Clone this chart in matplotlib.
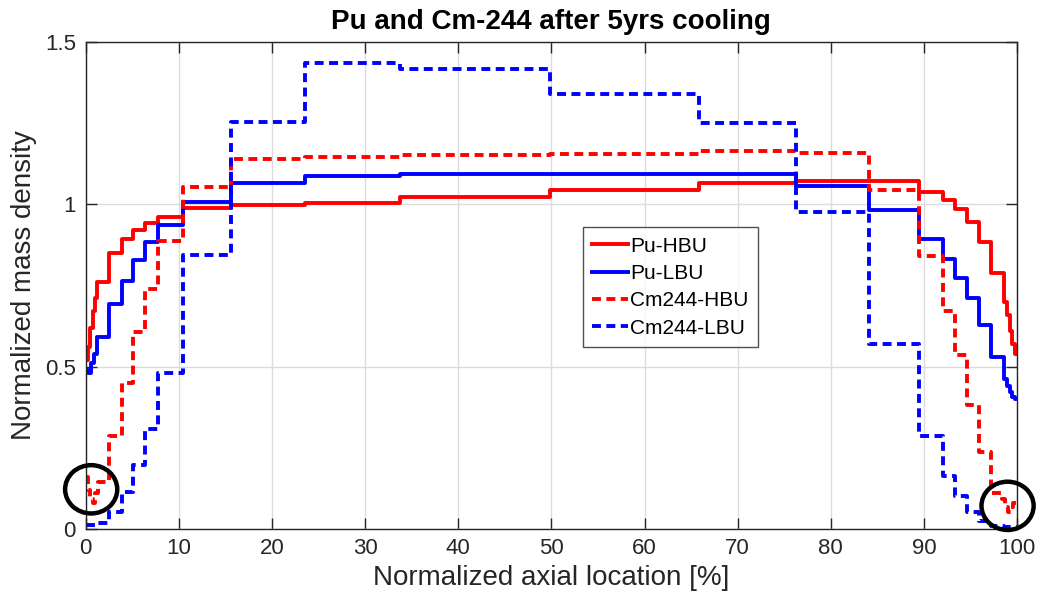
import numpy as np
import matplotlib.pyplot as plt
from matplotlib.patches import Ellipse

plt.rcParams['font.family'] = ['Liberation Sans', 'DejaVu Sans']

# axial zone boundaries [%] and normalized mass density in each zone
pu_hbu_x = [0, 0.25, 0.5, 0.75, 1.0, 1.25, 2.5, 3.85, 5.1, 6.4, 7.8, 10.4, 15.6, 23.6, 33.8,
            49.9, 65.8, 76.3, 89.5, 92.0, 93.3, 94.6, 95.9, 97.2, 98.6, 98.9, 99.2, 99.5, 99.75, 100]
pu_hbu_y = [0.52, 0.56, 0.62, 0.67, 0.71, 0.762, 0.849, 0.893, 0.921, 0.944, 0.962, 0.988, 0.998,
            1.005, 1.024, 1.044, 1.065, 1.072, 1.040, 1.014, 0.985, 0.947, 0.885, 0.788, 0.70,
            0.66, 0.61, 0.57, 0.54]

pu_lbu_x = [0, 0.3, 0.6, 0.9, 1.25, 2.5, 3.85, 5.1, 6.4, 7.8, 10.4, 15.6, 23.6, 33.8, 76.3,
            84.1, 89.5, 92.0, 93.3, 94.6, 95.9, 97.2, 98.6, 98.9, 99.2, 99.5, 99.75, 100]
pu_lbu_y = [0.49, 0.48, 0.51, 0.54, 0.592, 0.693, 0.765, 0.829, 0.885, 0.937, 1.009, 1.065,
            1.087, 1.094, 1.058, 0.984, 0.895, 0.831, 0.772, 0.711, 0.627, 0.528, 0.46, 0.44,
            0.42, 0.405, 0.40]

cm_hbu_x = [0, 0.25, 0.5, 0.75, 1.0, 1.3, 2.5, 3.85, 5.1, 6.4, 7.8, 10.4, 15.6, 23.6, 33.8,
            49.9, 65.8, 76.3, 84.1, 89.5, 92.0, 93.3, 94.6, 95.9, 97.2, 98.4, 98.7, 99.0, 99.3,
            99.6, 100]
cm_hbu_y = [0.16, 0.12, 0.09, 0.08, 0.11, 0.145, 0.287, 0.448, 0.607, 0.739, 0.888, 1.055,
            1.139, 1.147, 1.152, 1.157, 1.166, 1.160, 1.045, 0.841, 0.670, 0.535, 0.382, 0.235,
            0.110, 0.09, 0.065, 0.052, 0.065, 0.08]

cm_lbu_x = [0, 1.25, 2.5, 3.85, 5.1, 6.4, 7.8, 10.4, 15.6, 23.6, 33.8, 49.9, 65.8, 76.3, 84.1,
            89.5, 92.0, 93.3, 94.6, 95.9, 97.2, 98.6, 100]
cm_lbu_y = [0.01, 0.017, 0.05, 0.112, 0.196, 0.306, 0.481, 0.844, 1.255, 1.437, 1.417, 1.34,
            1.25, 0.977, 0.568, 0.285, 0.162, 0.1, 0.05, 0.022, 0.008, 0.004]

series = [
    ('Pu-HBU', pu_hbu_x, pu_hbu_y, '#ff0000', '-'),
    ('Pu-LBU', pu_lbu_x, pu_lbu_y, '#0000ff', '-'),
    ('Cm244-HBU', cm_hbu_x, cm_hbu_y, '#ff0000', '--'),
    ('Cm244-LBU', cm_lbu_x, cm_lbu_y, '#0000ff', '--'),
]

fig = plt.figure(figsize=(10.41, 6.07), dpi=100)
ax = fig.add_axes([0.0823, 0.1293, 0.8947, 0.8007])

for name, xs, ys, col, ls in series:
    line, = ax.step(xs, list(ys) + [ys[-1]], where='post', color=col, lw=2.8, label=name)
    if ls == '--':
        line.set_dashes((2.3, 1.4))

# highlight the dips at both ends
for cx, cy in [(0.59, 0.121), (98.98, 0.07)]:
    ax.add_patch(Ellipse((cx, cy), 5.6, 0.149, fill=False, edgecolor='black', lw=3.2,
                         clip_on=False, zorder=10))

ax.set_xlim(0, 100)
ax.set_ylim(0, 1.5)
ax.set_xticks(np.arange(0, 101, 10))
ax.set_yticks([0, 0.5, 1, 1.5])
ax.set_yticklabels(['0', '0.5', '1', '1.5'])
ax.grid(True, color='#dcdcdc', lw=1)
ax.set_axisbelow(True)
ax.tick_params(direction='in', length=8, width=1, top=True, right=True, labelsize=16,
               colors='#262626', pad=7)
for s in ax.spines.values():
    s.set_color('#262626')
    s.set_linewidth(1)

ax.set_title('Pu and Cm-244 after 5yrs cooling', fontsize=20, fontweight='bold', pad=10)
ax.set_xlabel('Normalized axial location [%]', fontsize=20, color='#262626', labelpad=4)
ax.set_ylabel('Normalized mass density', fontsize=20, color='#262626', labelpad=6)

leg = ax.legend(loc='upper left', bbox_to_anchor=(0.534, 0.620), borderaxespad=0,
                fontsize=15, frameon=True, fancybox=False, handlelength=1.7,
                handletextpad=0.1, labelspacing=0.4, borderpad=0.45)
leg.get_frame().set_edgecolor('#262626')
leg.get_frame().set_linewidth(1)

fig.savefig('out.png', dpi=100)
